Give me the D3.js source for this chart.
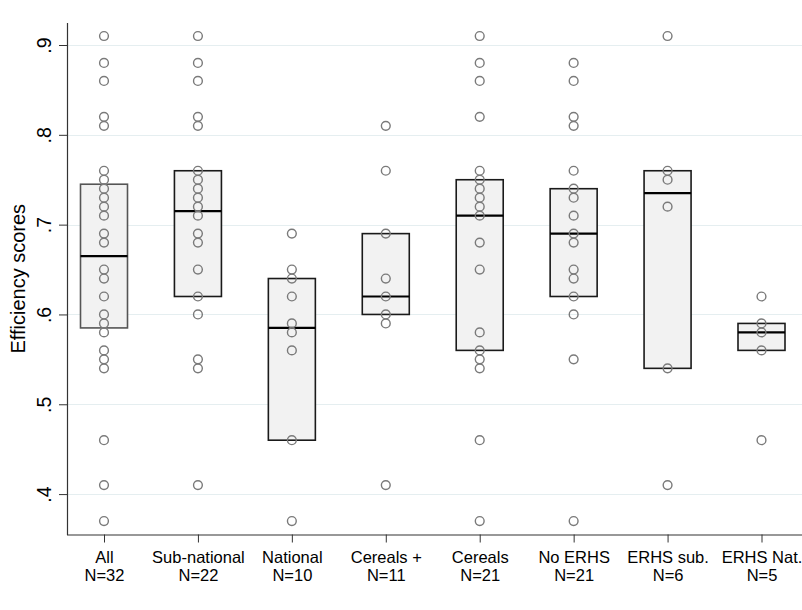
<!DOCTYPE html>
<html>
<head>
<meta charset="utf-8">
<script src="https://cdn.jsdelivr.net/npm/d3@7"></script>
<style>
  body { margin: 0; background: white; }
  text { font-family: "Liberation Sans", Arial, sans-serif; fill: #000; }
</style>
</head>
<body>
<div class="svg-wrap"></div>
<script>
// groups on the x axis
let groups = ["All", "Sub-national", "National", "Cereals +", "Cereals", "No ERHS", "ERHS sub.", "ERHS Nat."];
let counts = ["N=32", "N=22", "N=10", "N=11", "N=21", "N=21", "N=6", "N=5"];

// box: lower quartile, median, upper quartile
let q1      = [0.585, 0.62,  0.46,  0.60, 0.56, 0.62, 0.54,  0.56];
let medians = [0.665, 0.715, 0.585, 0.62, 0.71, 0.69, 0.735, 0.58];
let q3      = [0.745, 0.76,  0.64,  0.69, 0.75, 0.74, 0.76,  0.59];

// individual efficiency scores (as visible, duplicates overlap)
let scoresAll = [0.91, 0.88, 0.86, 0.82, 0.81, 0.76, 0.75, 0.74, 0.73, 0.72, 0.71, 0.69, 0.68,
  0.65, 0.64, 0.62, 0.60, 0.59, 0.58, 0.56, 0.55, 0.54, 0.46, 0.41, 0.37];
let scoresSub = [0.91, 0.88, 0.86, 0.82, 0.81, 0.76, 0.75, 0.74, 0.73, 0.72, 0.71, 0.69, 0.68,
  0.65, 0.62, 0.60, 0.55, 0.54, 0.41];
let scoresNat = [0.69, 0.65, 0.64, 0.62, 0.59, 0.58, 0.56, 0.46, 0.37];
let scoresCerPlus = [0.81, 0.76, 0.69, 0.64, 0.62, 0.60, 0.59, 0.41];
let scoresCer = [0.91, 0.88, 0.86, 0.82, 0.76, 0.75, 0.74, 0.73, 0.72, 0.71, 0.68, 0.65,
  0.58, 0.56, 0.55, 0.54, 0.46, 0.37];
let scoresNoErhs = [0.88, 0.86, 0.82, 0.81, 0.76, 0.74, 0.73, 0.71, 0.69, 0.68, 0.65, 0.64,
  0.62, 0.60, 0.55, 0.37];
let scoresErhsSub = [0.91, 0.76, 0.75, 0.72, 0.54, 0.41];
let scoresErhsNat = [0.62, 0.59, 0.58, 0.56, 0.46];
let scores = [scoresAll, scoresSub, scoresNat, scoresCerPlus, scoresCer, scoresNoErhs, scoresErhsSub, scoresErhsNat];

let yTicks = [0.4, 0.5, 0.6, 0.7, 0.8, 0.9];

var margin = {
    top: 23,
    right: 0,
    bottom: 75.5,
    left: 67
  },
  width = 802 - margin.left - margin.right,
  height = 610 - margin.top - margin.bottom;

let svg = d3.select(".svg-wrap")
  .append('svg')
  .attr('width', width + margin.left + margin.right)
  .attr('height', height + margin.top + margin.bottom)
  .style("display", "block")
  .style("background-color", "white");

let svgcontainer = svg.append('g')
  .attr('transform', 'translate(' + margin.left + ',' + margin.top + ')');

let scaleX = d3.scalePoint()
  .domain(groups)
  .range([37, 694.5]);

let scaleY = d3.scaleLinear()
  .domain([0.355, 0.9245])
  .range([height, 0]);

let boxWidth = 47;

createGrid();
createBoxes();
createPlots();
createYAxis();
createXAxis();

function createGrid(){
    svgcontainer.append('g')
      .selectAll('line')
      .data(yTicks)
      .enter()
      .append('line')
      .attr('x1', 0)
      .attr('x2', width)
      .attr('y1', d => Math.round(scaleY(d)) + 0.5)
      .attr('y2', d => Math.round(scaleY(d)) + 0.5)
      .style('stroke', '#e5eef0')
      .style('stroke-width', 1);
}

function createBoxes(){
    let box = svgcontainer.selectAll('.box')
      .data(groups)
      .enter()
      .append('g')
      .attr('class', 'box');

    box.append('rect')
      .attr('x', d => scaleX(d) - boxWidth / 2)
      .attr('y', (d, i) => scaleY(q3[i]))
      .attr('width', boxWidth)
      .attr('height', (d, i) => scaleY(q1[i]) - scaleY(q3[i]))
      .style('fill', '#f2f2f2')
      .style('stroke', (d, i) => i === 0 ? '#555' : '#1a1a1a')
      .style('stroke-width', 1.6);

    box.append('line')
      .attr('x1', d => scaleX(d) - boxWidth / 2)
      .attr('x2', d => scaleX(d) + boxWidth / 2)
      .attr('y1', (d, i) => scaleY(medians[i]))
      .attr('y2', (d, i) => scaleY(medians[i]))
      .style('stroke', '#000')
      .style('stroke-width', 2.2);
}

function createPlots(){
    groups.forEach((g, i) => {
        svgcontainer.append('g')
          .selectAll('.dot')
          .data(scores[i])
          .enter()
          .append('circle')
          .attr('class', 'dot')
          .attr('cx', scaleX(g))
          .attr('cy', d => scaleY(d))
          .attr('r', 4.4)
          .style('fill', 'none')
          .style('stroke', '#7a7a7a')
          .style('stroke-width', 1.4);
    });
}

function createYAxis(){
    let yAxis = d3.axisLeft(scaleY)
      .tickValues(yTicks)
      .tickSize(8)
      .tickFormat(d => d3.format('.1f')(d).replace(/^0/, ''));

    let axis = svgcontainer.append('g')
      .attr('id', 'y-axis')
      .call(yAxis);

    axis.select('.domain')
      .attr('d', 'M0.5,0V' + (height + 0.5))
      .style('stroke', '#333')
      .style('stroke-width', 1.2);
    axis.selectAll('.tick line').style('stroke', '#333');
    axis.selectAll('.tick text')
      .attr('x', null)
      .attr('dy', null)
      .attr('transform', 'translate(-16,0) rotate(-90)')
      .style('text-anchor', 'middle')
      .style('font-size', '19.5px')
      .style('font-family', '"Liberation Sans", Arial, sans-serif')
      .style('fill', '#000');

    svg.append('text')
      .attr('transform', 'translate(25,' + (margin.top + height / 2) + ') rotate(-90)')
      .style('text-anchor', 'middle')
      .style('font-size', '20px')
      .text('Efficiency scores');
}

function createXAxis(){
    let xAxis = d3.axisBottom(scaleX).tickSize(8).tickFormat('');

    let axis = svgcontainer.append('g')
      .attr('id', 'x-axis')
      .attr('transform', `translate(0,${height})`)
      .call(xAxis);

    axis.select('.domain')
      .attr('d', 'M0,0.5H' + width)
      .style('stroke', '#333')
      .style('stroke-width', 1.2);
    axis.selectAll('.tick line').style('stroke', '#333');
    axis.selectAll('.tick text').remove();

    let label = axis.selectAll('.tick')
      .append('text')
      .style('text-anchor', 'middle')
      .style('font-size', '16.5px')
      .style('font-family', '"Liberation Sans", Arial, sans-serif')
      .style('fill', '#000');

    label.append('tspan')
      .attr('x', 0)
      .attr('y', 28.5)
      .text(d => d);

    label.append('tspan')
      .attr('x', 0)
      .attr('y', 46)
      .text(d => counts[groups.indexOf(d)]);
}
</script>
</body>
</html>
